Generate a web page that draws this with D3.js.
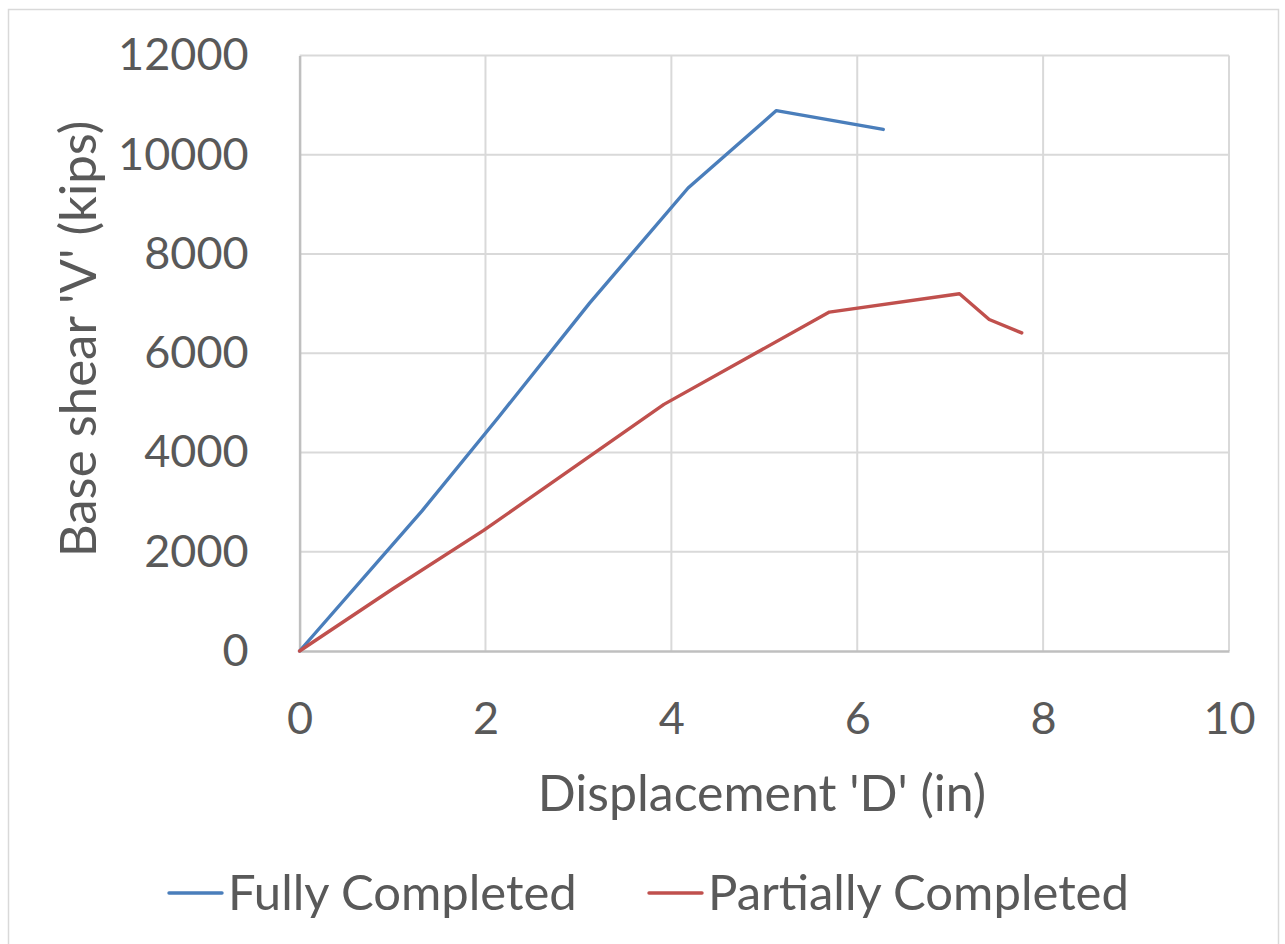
<!DOCTYPE html>
<html>
<head>
<meta charset="utf-8">
<script src="https://cdn.jsdelivr.net/npm/d3@7"></script>
<style>
  html, body { margin: 0; padding: 0; background: #fff; }
  svg { display: block; }
  text { font-family: Lato, "Open Sans", sans-serif; fill: #595959; }
</style>
</head>
<body>
<svg id="chart" width="1285" height="944"></svg>
<script>
// Pushover curves: displacement (in) vs base shear (kips)
const fullyDisp  = [0, 1.32, 2.14, 3.12, 4.18, 5.13, 6.28];
const fullyShear = [0, 2830, 4710, 7010, 9330, 10890, 10510];

const partialDisp  = [0, 1.0, 1.98, 3.92, 5.7, 7.1, 7.42, 7.77];
const partialShear = [0, 1250, 2430, 4970, 6830, 7200, 6680, 6410];

const xTicks = [0, 2, 4, 6, 8, 10];
const yTicks = [0, 2000, 4000, 6000, 8000, 10000, 12000];

const seriesNames = ["Fully Completed", "Partially Completed"];
const seriesColors = ["#4a7ebb", "#c0504d"];

const svg = d3.select("#chart");

// outer chart frame
svg.append("rect")
  .attr("x", 8.5).attr("y", 9.5)
  .attr("width", 1270).attr("height", 960)
  .attr("fill", "#fff").attr("stroke", "#d9d9d9").attr("stroke-width", 1.5);

const x = d3.scaleLinear().domain([0, 10]).range([299.6, 1229]);
const y = d3.scaleLinear().domain([0, 12000]).range([651, 55.5]);

// gridlines
const grid = svg.append("g");
grid.selectAll("line.h").data(yTicks.filter(d => d > 0)).join("line")
  .attr("x1", x(0)).attr("x2", x(10))
  .attr("y1", d => y(d)).attr("y2", d => y(d))
  .attr("stroke", "#d9d9d9").attr("stroke-width", 2);
grid.selectAll("line.v").data(xTicks.filter(d => d > 0)).join("line")
  .attr("y1", y(0)).attr("y2", y(12000))
  .attr("x1", d => x(d)).attr("x2", d => x(d))
  .attr("stroke", "#d9d9d9").attr("stroke-width", 2);

// axes
const xAxis = svg.append("g")
  .attr("transform", `translate(0,${y(0)})`)
  .call(d3.axisBottom(x).tickValues(xTicks).tickSize(0).tickPadding(51).tickFormat(d3.format("d")));
xAxis.select(".domain").attr("stroke", "#bfbfbf").attr("stroke-width", 2.5);
xAxis.selectAll("text").style("font-size", "45px").attr("fill", "#595959")
  .style("font-family", "Lato, 'Open Sans', sans-serif");

const yAxis = svg.append("g")
  .attr("transform", `translate(${x(0)},0)`)
  .call(d3.axisLeft(y).tickValues(yTicks).tickSize(0).tickPadding(51).tickFormat(d3.format("d")));
yAxis.select(".domain").attr("stroke", "#bfbfbf").attr("stroke-width", 2.5);
yAxis.selectAll("text").style("font-size", "45px").attr("fill", "#595959")
  .style("font-family", "Lato, 'Open Sans', sans-serif");

// axis titles
svg.append("text")
  .attr("x", 762).attr("y", 811)
  .attr("text-anchor", "middle")
  .style("font-size", "50px")
  .text("Displacement 'D' (in)");

svg.append("text")
  .attr("transform", `translate(96,339) rotate(-90)`)
  .attr("text-anchor", "middle")
  .style("font-size", "51px")
  .text("Base shear 'V' (kips)");

// curves
const line = d3.line().x(d => x(d[0])).y(d => y(d[1]));
const series = [
  d3.zip(fullyDisp, fullyShear),
  d3.zip(partialDisp, partialShear)
];
svg.append("g").selectAll("path").data(series).join("path")
  .attr("d", line)
  .attr("fill", "none")
  .attr("stroke", (d, i) => seriesColors[i])
  .attr("stroke-width", 3.4)
  .attr("stroke-linejoin", "round")
  .attr("stroke-linecap", "round");

// legend
const legendX = [169, 649];
const lg = svg.append("g").selectAll("g").data(seriesNames).join("g")
  .attr("transform", (d, i) => `translate(${legendX[i]},893)`);
lg.append("line")
  .attr("x1", 0).attr("x2", 53).attr("y1", 0).attr("y2", 0)
  .attr("stroke", (d, i) => seriesColors[i]).attr("stroke-width", 3.4)
  .attr("stroke-linecap", "round");
lg.append("text")
  .attr("x", 59).attr("y", 17)
  .style("font-size", "49px")
  .text(d => d);
</script>
</body>
</html>
